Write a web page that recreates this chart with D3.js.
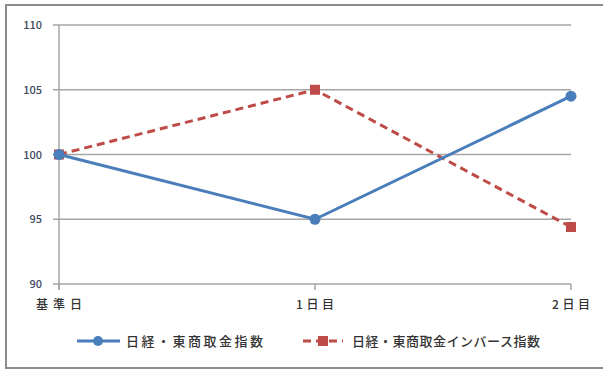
<!DOCTYPE html>
<html>
<head>
<meta charset="utf-8">
<script src="https://cdn.jsdelivr.net/npm/d3@7"></script>
<style>
  html, body { margin: 0; padding: 0; background: #fff; }
  svg { display: block; }
  text { font-family: "Noto Sans CJK JP", "Noto Sans", sans-serif; }
</style>
</head>
<body>
<svg id="chart" width="603" height="370"></svg>
<script>
// Index levels over three days, base day = 100
const categories = ["基準日", "1日目", "2日目"];
const nikkeiIndex = [100, 95, 104.5];
const inverseIndex = [100, 105, 94.4];
const yTicks = [90, 95, 100, 105, 110];
const seriesNames = ["日経・東商取金指数", "日経・東商取金インバース指数"];

const svg = d3.select("#chart");

// Frame around the whole chart
svg.append("rect")
  .attr("x", 6).attr("y", 5)
  .attr("width", 603).attr("height", 363)
  .attr("fill", "#fff")
  .attr("stroke", "#8c8c8c")
  .attr("stroke-width", 2);

const plot = { left: 59, right: 571, top: 25, bottom: 284 };

const x = d3.scalePoint().domain(categories).range([plot.left, plot.right]);
const y = d3.scaleLinear().domain([90, 110]).range([plot.bottom, plot.top]);

// Horizontal gridlines
svg.append("g")
  .selectAll("line")
  .data(yTicks)
  .join("line")
  .attr("x1", plot.left - 6).attr("x2", plot.right)
  .attr("y1", d => y(d)).attr("y2", d => y(d))
  .attr("stroke", "#a6a6a6")
  .attr("stroke-width", 1.5);

// Y axis labels
svg.append("g")
  .selectAll("text")
  .data(yTicks)
  .join("text")
  .attr("x", 42)
  .attr("y", d => y(d) + 4)
  .attr("text-anchor", "end")
  .attr("font-size", 11)
  .attr("font-weight", 500)
  .attr("fill", "#3d4a60")
  .text(d => d);

// Vertical axis line
svg.append("line")
  .attr("x1", plot.left).attr("x2", plot.left)
  .attr("y1", plot.top).attr("y2", plot.bottom + 6)
  .attr("stroke", "#a6a6a6")
  .attr("stroke-width", 1.5);

// Category ticks and labels
svg.append("g")
  .selectAll("line")
  .data(categories)
  .join("line")
  .attr("x1", d => x(d)).attr("x2", d => x(d))
  .attr("y1", plot.bottom).attr("y2", plot.bottom + 6)
  .attr("stroke", "#a6a6a6")
  .attr("stroke-width", 1.5);

svg.append("g")
  .selectAll("text")
  .data(categories)
  .join("text")
  .attr("x", d => x(d))
  .attr("y", 309)
  .attr("text-anchor", "middle")
  .attr("font-size", 12)
  .attr("font-weight", 500)
  .attr("fill", "#333")
  .attr("textLength", (d, i) => i === 0 ? 46 : 38)
  .attr("lengthAdjust", "spacing")
  .text(d => d);

const line = d3.line()
  .x((d, i) => x(categories[i]))
  .y(d => y(d));

const blue = "#4a7ebb", red = "#be4b48";

// Inverse index (dashed, square markers)
svg.append("path")
  .datum(inverseIndex)
  .attr("d", line)
  .attr("fill", "none")
  .attr("stroke", red)
  .attr("stroke-width", 3)
  .attr("stroke-dasharray", "8,5");
svg.append("g")
  .selectAll("rect")
  .data(inverseIndex)
  .join("rect")
  .attr("x", (d, i) => x(categories[i]) - 5)
  .attr("y", d => y(d) - 5)
  .attr("width", 10).attr("height", 10)
  .attr("fill", red);

// Nikkei index (solid, round markers)
svg.append("path")
  .datum(nikkeiIndex)
  .attr("d", line)
  .attr("fill", "none")
  .attr("stroke", blue)
  .attr("stroke-width", 3);
svg.append("g")
  .selectAll("circle")
  .data(nikkeiIndex)
  .join("circle")
  .attr("cx", (d, i) => x(categories[i]))
  .attr("cy", d => y(d))
  .attr("r", 5.5)
  .attr("fill", blue);

// Legend
const ly = 341;
const lg = svg.append("g");
lg.append("line").attr("x1", 77).attr("x2", 120).attr("y1", ly).attr("y2", ly)
  .attr("stroke", blue).attr("stroke-width", 3);
lg.append("circle").attr("cx", 98).attr("cy", ly).attr("r", 5).attr("fill", blue);
lg.append("text").attr("x", 126).attr("y", ly + 5).attr("font-size", 13)
  .attr("font-weight", 500)
  .attr("textLength", 137).attr("lengthAdjust", "spacing")
  .attr("fill", "#333").text(seriesNames[0]);

lg.append("line").attr("x1", 303).attr("x2", 343).attr("y1", ly).attr("y2", ly)
  .attr("stroke", red).attr("stroke-width", 3).attr("stroke-dasharray", "8,5");
lg.append("rect").attr("x", 318).attr("y", ly - 5).attr("width", 10).attr("height", 10)
  .attr("fill", red);
lg.append("text").attr("x", 352).attr("y", ly + 5).attr("font-size", 13)
  .attr("font-weight", 500)
  .attr("textLength", 188).attr("lengthAdjust", "spacing")
  .attr("fill", "#333").text(seriesNames[1]);
</script>
</body>
</html>
